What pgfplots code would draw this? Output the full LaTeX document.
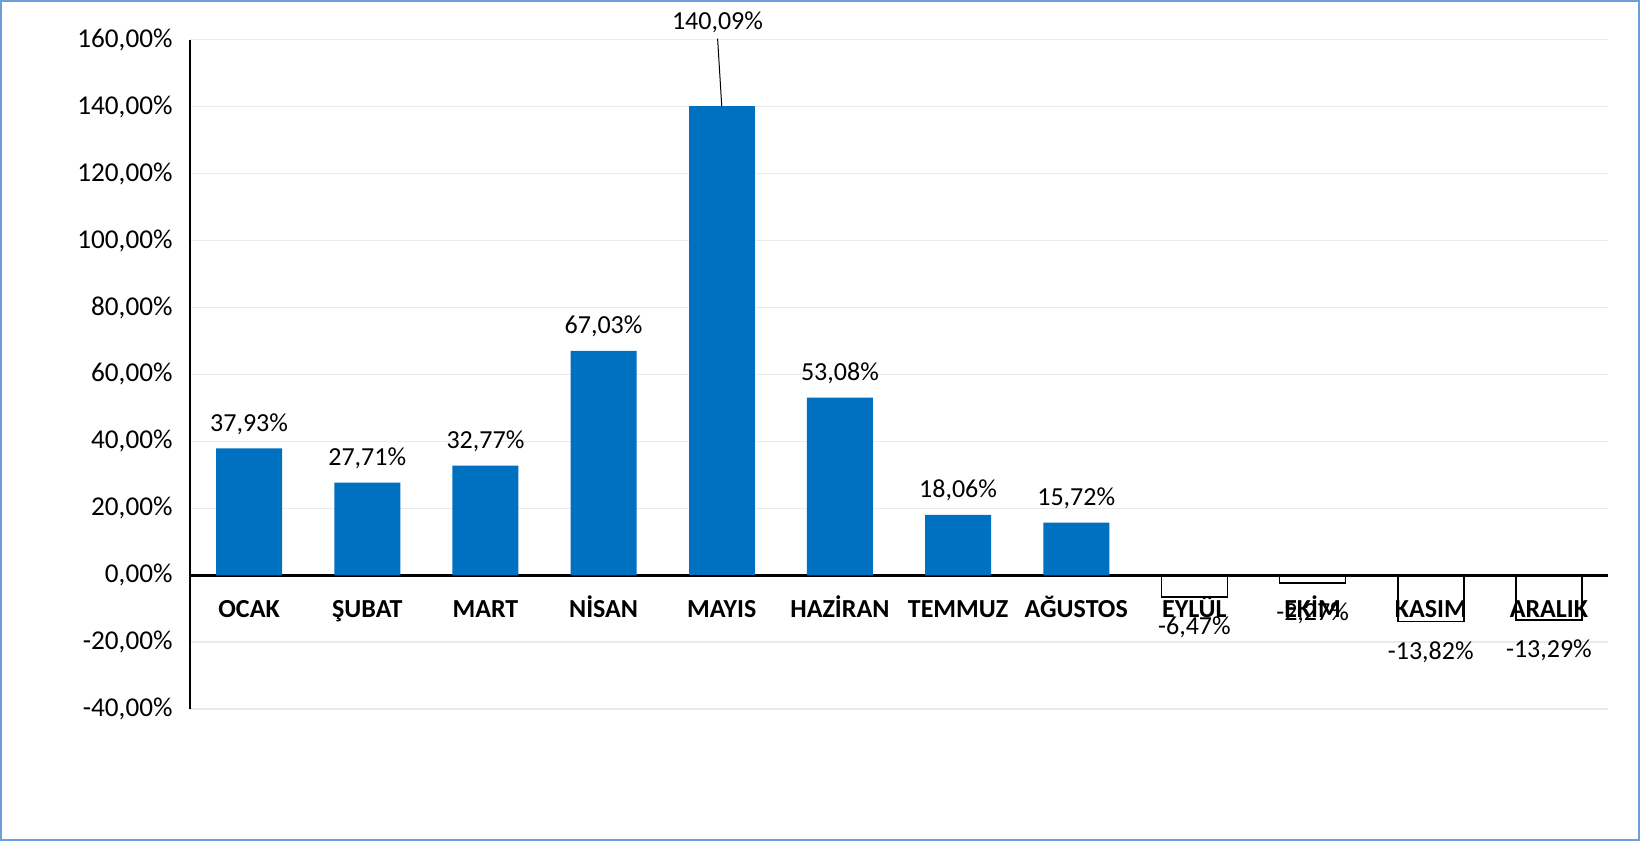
\documentclass[border=0pt]{standalone}
\usepackage{fontspec}
\setmainfont{Carlito}
\usepackage{pgfplots}
\pgfplotsset{compat=1.18}
\definecolor{barblue}{HTML}{0070C0}
\definecolor{frameblue}{HTML}{6A9FDA}
\definecolor{gridgray}{HTML}{EAEAEA}
\newcommand{\lblfont}{\fontsize{13}{15.6}\selectfont}
\newcommand{\tickfont}{\fontsize{13.6}{16.3}\selectfont}
\begin{document}
\begin{tikzpicture}[font=\lblfont]
\useasboundingbox (0,0) rectangle (820pt,420.5pt);
\draw[frameblue, line width=1.2pt] (0.6pt,0.6pt) rectangle (819.4pt,419.9pt);
\begin{axis}[
  at={(95pt,65.9pt)}, anchor=south west,
  scale only axis, width=709pt, height=334.75pt,
  xmin=-0.5, xmax=11.5, ymin=-40, ymax=160,
  axis x line*=middle, axis y line*=left,
  x axis line style={black, line width=1.5pt},
  y axis line style={black, line width=1.2pt},
  major tick length=0pt,
  ytick={-40,-20,...,160},
  xtick={0,...,11},
  xticklabels={OCAK,ŞUBAT,MART,NİSAN,MAYIS,HAZİRAN,TEMMUZ,AĞUSTOS,EYLÜL,EKİM,KASIM,ARALIK},
  xticklabel style={font=\lblfont\bfseries, anchor=base, yshift=-21pt},
  /pgf/number format/assume math mode=true,
  yticklabel={\pgfmathprintnumber[fixed,fixed zerofill,precision=2,use comma]{\tick}\%},
  yticklabel style={font=\tickfont, anchor=east, xshift=-5.2pt},
  ymajorgrids, grid style={gridgray, line width=0.8pt},
  ybar, bar width=33pt, bar shift=0pt,
  clip=false,
]
\addplot[fill=barblue, draw=none,
  nodes near coords={\pgfmathprintnumber[fixed,fixed zerofill,precision=2,use comma,assume math mode=true]{\pgfplotspointmeta}\%},
  every node near coord/.append style={anchor=base, yshift=8.6pt, font=\lblfont, black}]
  coordinates {(0,37.93) (1,27.71) (2,32.77) (3,67.03) (5,53.08) (6,18.06) (7,15.72)};
\addplot[fill=barblue, draw=none] coordinates {(4,140.09)};
\addplot[fill=none, draw=black, line width=0.75pt,
  nodes near coords={\pgfmathprintnumber[fixed,fixed zerofill,precision=2,use comma,assume math mode=true]{\pgfplotspointmeta}\%},
  every node near coord/.append style={anchor=base, yshift=-19pt, font=\lblfont, black}]
  coordinates {(8,-6.47) (9,-2.27) (10,-13.82) (11,-13.29)};
\draw[black, line width=0.5pt] (axis cs:4,140.09) -- (axis cs:3.965,160.3);
\node[anchor=base, black, font=\lblfont] at (axis cs:3.964,163.1) {140,09\%};
\end{axis}
\end{tikzpicture}
\end{document}
